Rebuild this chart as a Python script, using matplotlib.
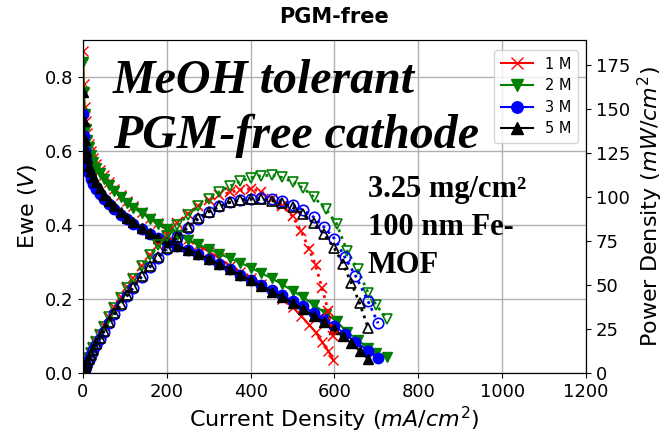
import matplotlib.pyplot as plt

# Polarization data: current density (mA/cm2) and cell voltage (V)
i_1m = [0, 2, 4, 7, 10, 14, 19, 25, 32, 40, 50, 62, 75, 90, 105, 120, 140, 160, 180, 200,
        225, 250, 275, 300, 325, 350, 375, 400, 425, 450, 475, 500, 520, 540, 555, 570, 585, 597]
v_1m = [0.87, 0.78, 0.72, 0.68, 0.65, 0.62, 0.60, 0.58, 0.565, 0.55, 0.535, 0.515, 0.497, 0.48,
        0.465, 0.45, 0.435, 0.42, 0.405, 0.392, 0.378, 0.362, 0.345, 0.328, 0.31, 0.29, 0.272,
        0.258, 0.24, 0.22, 0.20, 0.178, 0.155, 0.13, 0.11, 0.085, 0.06, 0.035]
p_1m = [0, 1.6, 2.9, 4.8, 6.5, 8.7, 11.4, 14.5, 18.1, 22.0, 26.8, 31.9, 37.3, 43.2, 48.8, 54.0,
        60.9, 67.2, 72.9, 78.4, 85.1, 90.5, 94.9, 98.4, 100.8, 102.5, 104.0, 104.5, 103.0, 99.0,
        95.0, 89.0, 80.6, 70.2, 61.1, 48.5, 35.1, 20.9]

i_2m = [0, 2, 4, 7, 10, 14, 19, 25, 32, 40, 50, 62, 75, 90, 105, 120, 140, 160, 180, 200,
        225, 250, 275, 300, 325, 350, 375, 400, 425, 450, 475, 500, 525, 550, 580, 605, 630,
        655, 680, 700, 725]
v_2m = [0.84, 0.76, 0.70, 0.66, 0.63, 0.61, 0.59, 0.57, 0.555, 0.54, 0.525, 0.508, 0.492, 0.475,
        0.46, 0.447, 0.432, 0.417, 0.402, 0.388, 0.373, 0.36, 0.348, 0.335, 0.322, 0.31, 0.298,
        0.285, 0.27, 0.256, 0.24, 0.222, 0.205, 0.185, 0.16, 0.14, 0.11, 0.09, 0.067, 0.055, 0.042]
p_2m = [0, 1.5, 2.8, 4.6, 6.3, 8.5, 11.2, 14.3, 17.8, 21.6, 26.3, 31.5, 36.9, 42.8, 48.3, 53.6,
        60.5, 66.7, 72.4, 77.6, 83.9, 89.5, 94.5, 99.0, 102.8, 106.0, 108.8, 110.8, 112.0, 112.2,
        111.0, 108.5, 105.0, 100.0, 92.8, 84.7, 69.3, 59.0, 45.6, 38.5, 30.5]

i_3m = [0, 2, 4, 7, 10, 14, 19, 25, 32, 40, 50, 62, 75, 90, 105, 120, 140, 160, 180, 200,
        225, 250, 275, 300, 325, 350, 375, 400, 425, 450, 475, 500, 525, 550, 575, 600, 625,
        650, 680, 704]
v_3m = [0.70, 0.64, 0.60, 0.575, 0.555, 0.54, 0.525, 0.51, 0.497, 0.484, 0.47, 0.456, 0.442, 0.428,
        0.415, 0.403, 0.39, 0.376, 0.364, 0.353, 0.342, 0.332, 0.321, 0.308, 0.294, 0.28, 0.266,
        0.252, 0.238, 0.224, 0.21, 0.195, 0.18, 0.163, 0.145, 0.127, 0.105, 0.085, 0.06, 0.04]
p_3m = [0, 1.3, 2.4, 4.0, 5.6, 7.6, 10.0, 12.8, 15.9, 19.4, 23.5, 28.3, 33.2, 38.5, 43.6, 48.4,
        54.6, 60.2, 65.5, 70.6, 77.0, 82.5, 87.5, 91.5, 94.5, 96.8, 98.2, 99.0, 99.2, 98.8,
        97.8, 95.5, 92.5, 88.5, 82.8, 76.2, 65.6, 55.3, 40.8, 28.2]

i_5m = [0, 2, 4, 7, 10, 14, 19, 25, 32, 40, 50, 62, 75, 90, 105, 120, 140, 160, 180, 200,
        225, 250, 275, 300, 325, 350, 375, 400, 425, 450, 475, 500, 525, 550, 575, 600, 620,
        640, 660, 680]
v_5m = [0.76, 0.68, 0.63, 0.60, 0.58, 0.56, 0.545, 0.53, 0.515, 0.50, 0.482, 0.465, 0.45, 0.435,
        0.42, 0.408, 0.393, 0.378, 0.366, 0.355, 0.343, 0.333, 0.322, 0.308, 0.294, 0.28, 0.265,
        0.25, 0.235, 0.22, 0.206, 0.19, 0.173, 0.155, 0.137, 0.118, 0.10, 0.08, 0.06, 0.038]
p_5m = [0, 1.4, 2.5, 4.2, 5.8, 7.8, 10.4, 13.3, 16.5, 20.0, 24.1, 28.8, 33.8, 39.2, 44.1, 49.0,
        55.0, 60.5, 65.9, 71.0, 77.2, 82.8, 87.8, 91.5, 94.5, 96.8, 98.0, 98.6, 98.5, 97.8, 96.5,
        94.0, 90.0, 85.0, 78.8, 70.8, 62.0, 51.2, 39.6, 25.8]

labels = ['1 M', '2 M', '3 M', '5 M']
colors = ['red', 'green', 'blue', 'black']
markers = ['x', 'v', 'o', '^']
currents = [i_1m, i_2m, i_3m, i_5m]
voltages = [v_1m, v_2m, v_3m, v_5m]
powers = [p_1m, p_2m, p_3m, p_5m]

fig = plt.figure(figsize=(6.64, 4.33), dpi=100)
ax = fig.add_axes([0.125, 0.1386, 0.7575, 0.769])
ax2 = ax.twinx()

for i, v, p, lab, c, m in zip(currents, voltages, powers, labels, colors, markers):
    ax.plot(i, v, color=c, marker=m, markersize=7.5, linewidth=1.5, label=lab)
    ax2.plot(i, p, color=c, marker=m, markersize=7.5, linestyle=':', linewidth=2,
             markerfacecolor='none', markeredgewidth=1.2)

ax.set_xlim(0, 1200)
ax.set_ylim(0, 0.9)
ax2.set_ylim(0, 189)
ax.set_xticks([0, 200, 400, 600, 800, 1000, 1200])
ax.set_yticks([0.0, 0.2, 0.4, 0.6, 0.8])
ax2.set_yticks([0, 25, 50, 75, 100, 125, 150, 175])
ax.grid(True, color='#b0b0b0', linewidth=1)
ax.tick_params(labelsize=13)
ax2.tick_params(labelsize=13)

ax.set_xlabel('Current Density $(mA/cm^2)$', fontsize=16, labelpad=3)
ax.set_ylabel('Ewe $(V)$', fontsize=16)
ax2.set_ylabel('Power Density $(mW/cm^2)$', fontsize=16)
ax.set_title('PGM-free', fontsize=15, fontweight='bold', pad=12)

ax.legend(loc='upper right', fontsize=10.5, handlelength=2.2, borderpad=0.45,
          labelspacing=0.45, markerscale=1.1, bbox_to_anchor=(0.998, 0.992))

# Annotations
ser = 'Liberation Serif'
fig.text(113 / 664, 1 - 93 / 433, 'MeOH tolerant', family=ser, style='italic',
         weight='bold', fontsize=34.5, va='baseline')
fig.text(113 / 664, 1 - 148 / 433, 'PGM-free cathode', family=ser, style='italic',
         weight='bold', fontsize=34.5, va='baseline')
fig.text(368 / 664, 1 - 197 / 433, '3.25 mg/cm\u00b2', family=ser,
         weight='bold', fontsize=22, va='baseline')
fig.text(368 / 664, 1 - 235 / 433, '100 nm Fe-', family=ser,
         weight='bold', fontsize=22, va='baseline')
fig.text(368 / 664, 1 - 273 / 433, 'MOF', family=ser,
         weight='bold', fontsize=22, va='baseline')

fig.savefig('out.png', dpi=100)
